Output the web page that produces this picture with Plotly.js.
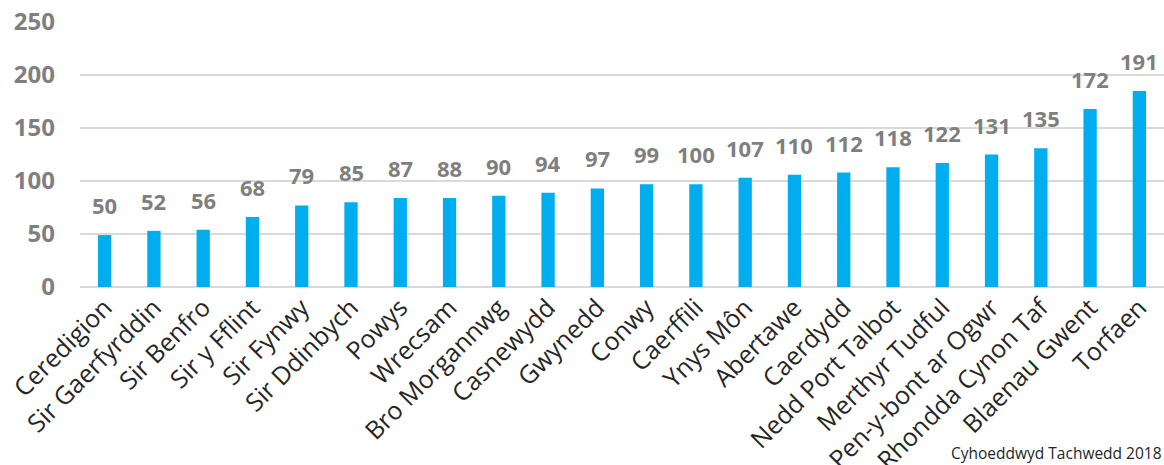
<!DOCTYPE html>
<html>
<head>
<meta charset="utf-8">
<script src="https://cdn.plot.ly/plotly-3.0.1.min.js"></script>
<style>html,body{margin:0;padding:0;background:#fff;}#chart{width:1164px;height:465px;}</style>
</head>
<body>
<div id="chart"></div>
<script>
const categories = ["Ceredigion","Sir Gaerfyrddin","Sir Benfro","Sir y Fflint","Sir Fynwy","Sir Ddinbych","Powys","Wrecsam","Bro Morgannwg","Casnewydd","Gwynedd","Conwy","Caerffili","Ynys Môn","Abertawe","Caerdydd","Nedd Port Talbot","Merthyr Tudful","Pen-y-bont ar Ogwr","Rhondda Cynon Taf","Blaenau Gwent","Torfaen"];
// bar heights as drawn in the picture
const barValues = [49, 53, 54, 66, 77, 80, 84, 84, 86, 89, 93, 97, 97, 103, 106, 108, 113, 117, 125, 131, 168, 185];
// data labels as printed above the bars
const labelValues = ["50","52","56","68","79","85","87","88","90","94","97","99","100","107","110","112","118","122","131","135","172","191"];
const yTicks = [0, 50, 100, 150, 200, 250];
const footer = "Cyhoeddwyd Tachwedd 2018";

const trace = {
  type: "bar",
  x: categories,
  y: barValues,
  marker: {color: "#00AEEF"},
  hoverinfo: "none"
};

const annotations = categories.map((c, i) => ({
  x: c, y: barValues[i], xref: "x", yref: "y",
  text: labelValues[i], showarrow: false,
  yanchor: "bottom", yshift: 13,
  font: {family: "Open Sans, sans-serif", size: 22, color: "#7F7F7F", weight: "bold"}
}));
annotations.push({
  xref: "paper", yref: "paper", x: 1, y: 0, xanchor: "right", yanchor: "top",
  xshift: 0, yshift: -153, text: footer, showarrow: false,
  font: {family: "Open Sans, sans-serif", size: 15.5, color: "#262626"}
});

const layout = {
  width: 1164, height: 465,
  margin: {l: 80, r: 0, t: 22, b: 178, pad: 0},
  paper_bgcolor: "#fff", plot_bgcolor: "#fff",
  bargap: 0.73,
  showlegend: false,
  xaxis: {
    type: "category",
    tickangle: -45,
    tickfont: {family: "Open Sans, sans-serif", size: 25, color: "#262626"},
    showgrid: false, showline: false, ticks: "", automargin: false
  },
  yaxis: {
    range: [0, 250],
    tickvals: yTicks,
    ticktext: yTicks.map(String),
    showgrid: true, gridcolor: "#D9D9D9", gridwidth: 1.5,
    zeroline: true, zerolinecolor: "#D9D9D9", zerolinewidth: 1.5,
    showline: false, ticks: "", ticklabelstandoff: 24,
    tickfont: {family: "Open Sans, sans-serif", size: 24, color: "#7F7F7F", weight: "bold"},
    automargin: false
  },
  annotations: annotations
};

Plotly.newPlot("chart", [trace], layout, {displayModeBar: false, staticPlot: true});
</script>
</body>
</html>
